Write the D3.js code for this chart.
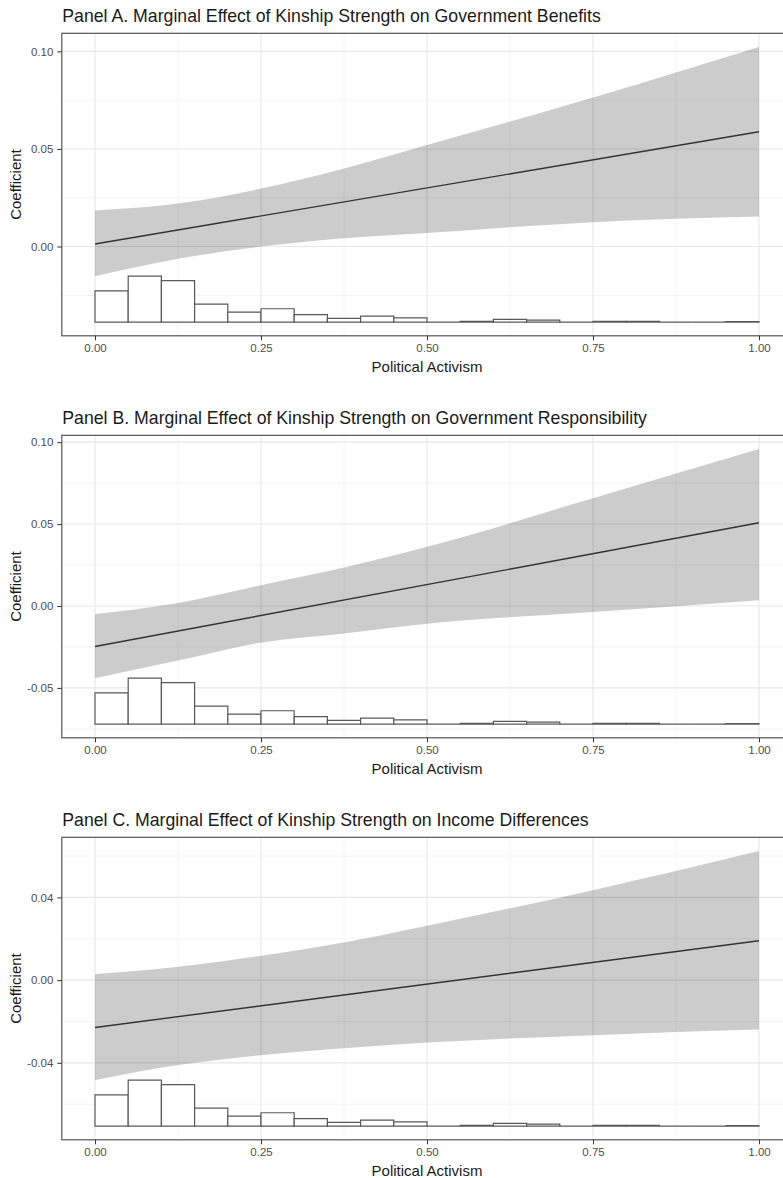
<!DOCTYPE html>
<html>
<head>
<meta charset="utf-8">
<script src="https://cdn.jsdelivr.net/npm/d3@7"></script>
<style>
  body { margin: 0; background: #ffffff; }
  svg { display: block; }
  text { font-family: "Liberation Sans", Arial, Helvetica, sans-serif; }
</style>
</head>
<body>
<svg id="chart" width="783" height="1178"></svg>
<script>
// Moderator: political activism, binned for the distribution strip
const activismBinStarts = [0.00, 0.05, 0.10, 0.15, 0.20, 0.25, 0.30, 0.35, 0.40, 0.45,
                           0.50, 0.55, 0.60, 0.65, 0.70, 0.75, 0.80, 0.85, 0.90, 0.95];
const activismBinWidth = 0.05;
const activismCounts = [136, 200, 181, 78, 43, 58, 32, 16, 26, 18,
                        0, 3, 12, 8, 0, 3, 3, 0, 0, 2];

// Points where the confidence band is evaluated
const bandX = [0, 0.125, 0.25, 0.375, 0.5, 0.75, 1];

// Panel A: government benefits
const benefitsUpper = [0.0185, 0.0220, 0.0297, 0.0400, 0.0520, 0.0763, 0.1022];
const benefitsLower = [-0.0152, -0.0063, 0.0000, 0.0043, 0.0070, 0.0125, 0.0154];
const benefitsEffect = [0.0013, 0.0588];   // at activism 0 and 1

// Panel B: government responsibility
const responsibilityUpper = [-0.0049, 0.0018, 0.0127, 0.0235, 0.0361, 0.0658, 0.0958];
const responsibilityLower = [-0.0441, -0.0333, -0.0224, -0.0168, -0.0108, -0.0037, 0.0035];
const responsibilityEffect = [-0.0247, 0.0508];

// Panel C: income differences
const incomeUpper = [0.0029, 0.0064, 0.0118, 0.0182, 0.0263, 0.0435, 0.0624];
const incomeLower = [-0.0484, -0.0411, -0.0363, -0.0330, -0.0302, -0.0266, -0.0239];
const incomeEffect = [-0.0229, 0.0190];

const effectX = [0, 1];

// Axis ticks
const xTicks = [0, 0.25, 0.5, 0.75, 1];
const xTickLabels = ["0.00", "0.25", "0.50", "0.75", "1.00"];
const xMinor = [0.125, 0.375, 0.625, 0.875];

const benefitsYTicks = [0, 0.05, 0.10];
const benefitsYLabels = ["0.00", "0.05", "0.10"];
const benefitsYMinor = [-0.025, 0.025, 0.075];

const responsibilityYTicks = [-0.05, 0, 0.05, 0.10];
const responsibilityYLabels = ["-0.05", "0.00", "0.05", "0.10"];
const responsibilityYMinor = [-0.075, -0.025, 0.025, 0.075];

const incomeYTicks = [-0.04, 0, 0.04];
const incomeYLabels = ["-0.04", "0.00", "0.04"];
const incomeYMinor = [-0.06, -0.02, 0.02, 0.06];

const panelTitles = [
  "Panel A. Marginal Effect of Kinship Strength on Government Benefits",
  "Panel B. Marginal Effect of Kinship Strength on Government Responsibility",
  "Panel C. Marginal Effect of Kinship Strength on Income Differences"
];
const xAxisTitle = "Political Activism";
const yAxisTitle = "Coefficient";

const panels = [
  { title: panelTitles[0], upper: benefitsUpper, lower: benefitsLower, effect: benefitsEffect,
    yTicks: benefitsYTicks, yLabels: benefitsYLabels, yMinor: benefitsYMinor },
  { title: panelTitles[1], upper: responsibilityUpper, lower: responsibilityLower, effect: responsibilityEffect,
    yTicks: responsibilityYTicks, yLabels: responsibilityYLabels, yMinor: responsibilityYMinor },
  { title: panelTitles[2], upper: incomeUpper, lower: incomeLower, effect: incomeEffect,
    yTicks: incomeYTicks, yLabels: incomeYLabels, yMinor: incomeYMinor }
];

// ---- layout ----
const svg = d3.select("#chart");
const firstTop = 33.3;
const panelStride = 402;
const panelHeight = 302.5;
const x = d3.scaleLinear().domain([0, 1]).range([95, 759]);
const panelLeft = x(-0.05);
const panelRight = x(1.05);

const gridMajor = "#e7e7e7";
const gridMinor = "#f1f1f1";

panels.forEach((p, i) => {
  const top = firstTop + i * panelStride;
  const bottom = top + panelHeight;

  // histogram strip sits directly under the lowest point of the band,
  // with a height of one fifth of the band's span
  const ciMin = d3.min(p.lower);
  const ciMax = d3.max(p.upper);
  const histHeight = (ciMax - ciMin) / 5;
  const histBase = ciMin - histHeight;
  const span = ciMax - histBase;
  const y = d3.scaleLinear()
    .domain([histBase - 0.05 * span, ciMax + 0.05 * span])
    .range([bottom, top]);

  const g = svg.append("g");
  const clipId = "clip" + i;
  g.append("clipPath").attr("id", clipId)
    .append("rect")
    .attr("x", panelLeft).attr("y", top)
    .attr("width", panelRight - panelLeft).attr("height", panelHeight);

  const plot = g.append("g").attr("clip-path", `url(#${clipId})`);

  // grid
  plot.selectAll(".ymin").data(p.yMinor).join("line")
    .attr("x1", panelLeft).attr("x2", panelRight)
    .attr("y1", d => y(d)).attr("y2", d => y(d))
    .attr("stroke", gridMinor).attr("stroke-width", 0.8);
  plot.selectAll(".xmin").data(xMinor).join("line")
    .attr("x1", d => x(d)).attr("x2", d => x(d))
    .attr("y1", top).attr("y2", bottom)
    .attr("stroke", gridMinor).attr("stroke-width", 0.8);
  plot.selectAll(".ymaj").data(p.yTicks).join("line")
    .attr("x1", panelLeft).attr("x2", panelRight)
    .attr("y1", d => y(d)).attr("y2", d => y(d))
    .attr("stroke", gridMajor).attr("stroke-width", 1.1);
  plot.selectAll(".xmaj").data(xTicks).join("line")
    .attr("x1", d => x(d)).attr("x2", d => x(d))
    .attr("y1", top).attr("y2", bottom)
    .attr("stroke", gridMajor).attr("stroke-width", 1.1);

  // confidence band
  const band = bandX.map((bx, k) => ({ x: bx, lo: p.lower[k], hi: p.upper[k] }));
  plot.append("path")
    .datum(band)
    .attr("d", d3.area().curve(d3.curveMonotoneX)
      .x(d => x(d.x)).y0(d => y(d.lo)).y1(d => y(d.hi)))
    .attr("fill", "#000").attr("fill-opacity", 0.2);

  // marginal effect line
  const eff = effectX.map((ex, k) => ({ x: ex, v: p.effect[k] }));
  plot.append("path")
    .datum(eff)
    .attr("d", d3.line().x(d => x(d.x)).y(d => y(d.v)))
    .attr("fill", "none").attr("stroke", "#333333").attr("stroke-width", 1.4);

  // distribution of the moderator
  const maxCount = d3.max(activismCounts);
  plot.selectAll(".bar").data(activismBinStarts).join("path")
    .attr("d", (b, k) => {
      const x0 = x(b), x1 = x(b + activismBinWidth);
      const yb = y(histBase);
      const yt = y(histBase + activismCounts[k] / maxCount * histHeight);
      return `M${x0},${yb}L${x0},${yt}L${x1},${yt}L${x1},${yb}Z`;
    })
    .attr("fill", "#ffffff").attr("stroke", "#585858").attr("stroke-width", 1.2);

  // panel border
  g.append("rect")
    .attr("x", panelLeft).attr("y", top)
    .attr("width", panelRight - panelLeft).attr("height", panelHeight)
    .attr("fill", "none").attr("stroke", "#555555").attr("stroke-width", 1.2);

  // axes
  const yAxis = g.append("g").attr("transform", `translate(${panelLeft},0)`)
    .call(d3.axisLeft(y).tickValues(p.yTicks).tickFormat((d, k) => p.yLabels[k])
      .tickSize(4.5).tickPadding(4));
  const xAxis = g.append("g").attr("transform", `translate(0,${bottom})`)
    .call(d3.axisBottom(x).tickValues(xTicks).tickFormat((d, k) => xTickLabels[k])
      .tickSize(4.5).tickPadding(4));
  [yAxis, xAxis].forEach(a => {
    a.select(".domain").remove();
    a.selectAll(".tick line").attr("stroke", "#333333").attr("stroke-width", 1);
    a.selectAll(".tick text")
      .attr("fill", "#4d4d4d")
      .style("font-size", "11.5px")
      .style("font-family", '"Liberation Sans", Arial, sans-serif');
  });

  // titles
  g.append("text")
    .attr("x", panelLeft + 0.5).attr("y", top - 11.6)
    .attr("fill", "#1a1a1a").style("font-size", "17.7px")
    .text(p.title);
  g.append("text")
    .attr("x", (panelLeft + panelRight) / 2).attr("y", bottom + 35.7)
    .attr("text-anchor", "middle")
    .attr("fill", "#1a1a1a").style("font-size", "15px")
    .text(xAxisTitle);
  g.append("text")
    .attr("transform", `translate(20.5,${(top + bottom) / 2}) rotate(-90)`)
    .attr("text-anchor", "middle")
    .attr("fill", "#1a1a1a").style("font-size", "15px")
    .text(yAxisTitle);
});
</script>
</body>
</html>
